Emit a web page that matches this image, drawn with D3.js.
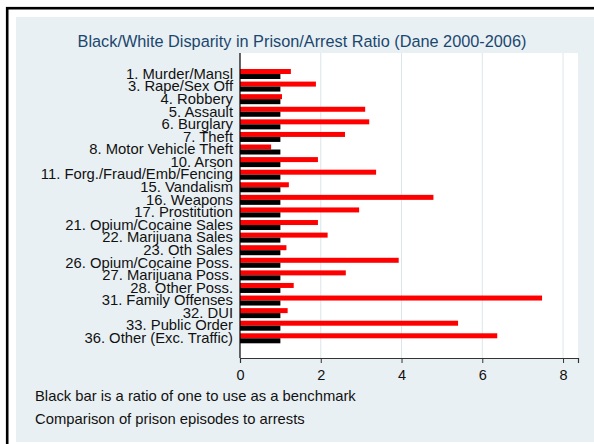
<!DOCTYPE html>
<html>
<head>
<meta charset="utf-8">
<script src="https://cdn.jsdelivr.net/npm/d3@7"></script>
<style>
  html, body { margin: 0; padding: 0; background: #fff; }
  svg { display: block; }
  text { font-family: "Liberation Sans", Arial, Helvetica, sans-serif; }
</style>
</head>
<body>
<script>
const categories = [
  "1. Murder/Mansl", "3. Rape/Sex Off", "4. Robbery", "5. Assault", "6. Burglary",
  "7. Theft", "8. Motor Vehicle Theft", "10. Arson", "11. Forg./Fraud/Emb/Fencing",
  "15. Vandalism", "16. Weapons", "17. Prostitution", "21. Opium/Cocaine Sales",
  "22. Marijuana Sales", "23. Oth Sales", "26. Opium/Cocaine Poss.", "27. Marijuana Poss.",
  "28. Other Poss.", "31. Family Offenses", "32. DUI", "33. Public Order", "36. Other (Exc. Traffic)"
];
const disparityRatio = [1.26, 1.88, 1.04, 3.10, 3.20, 2.60, 0.77, 1.93, 3.37, 1.21, 4.79,
                        2.95, 1.93, 2.17, 1.15, 3.93, 2.62, 1.33, 7.48, 1.18, 5.40, 6.37];
const benchmark = [1, 1, 1, 1, 1, 1, 1, 1, 1, 1, 1, 1, 1, 1, 1, 1, 1, 1, 1, 1, 1, 1];
const seriesNames = ["ratio", "benchmark"];
const xTicks = [0, 2, 4, 6, 8];
const titleText = "Black/White Disparity in Prison/Arrest Ratio (Dane 2000-2006)";
const notes = ["Black bar is a ratio of one to use as a benchmark",
               "Comparison of prison episodes to arrests"];

const W = 594, H = 444;
const plot = { left: 240, right: 578, top: 53, bottom: 358 };

const svg = d3.select("body").append("svg").attr("width", W).attr("height", H);

// outer frame and panel
svg.append("rect").attr("x", 0).attr("y", 0).attr("width", W).attr("height", H).attr("fill", "#fff");
svg.append("rect").attr("x", 7.2).attr("y", 8.2).attr("width", W + 20).attr("height", H + 20)
  .attr("fill", "none").attr("stroke", "#000").attr("stroke-width", 2.6);
svg.append("rect").attr("x", 16).attr("y", 17).attr("width", W - 16).attr("height", 425)
  .attr("fill", "#E9F0F3");

// plot region
svg.append("rect").attr("x", plot.left).attr("y", plot.top)
  .attr("width", plot.right - plot.left).attr("height", plot.bottom - plot.top).attr("fill", "#fff");

const x = d3.scaleLinear().domain([0, 8.37]).range([plot.left, plot.right]);
const y = d3.scaleBand().domain(categories).range([69, 343.3]).paddingInner(0.205).paddingOuter(0);
const ySub = d3.scaleBand().domain(seriesNames).range([0, y.bandwidth()]);

// gridlines
svg.append("g").selectAll("line").data(xTicks.filter(d => d > 0)).join("line")
  .attr("x1", d => x(d)).attr("x2", d => x(d))
  .attr("y1", plot.top).attr("y2", plot.bottom)
  .attr("stroke", "#DCE6EA").attr("stroke-width", 1);

const rows = categories.map((c, i) => ({ c, ratio: disparityRatio[i], benchmark: benchmark[i] }));
const colors = { ratio: "#FF0000", benchmark: "#000000" };

const g = svg.append("g");
seriesNames.forEach(s => {
  g.append("g").selectAll("rect").data(rows).join("rect")
    .attr("x", x(0))
    .attr("y", d => y(d.c) + ySub(s))
    .attr("width", d => x(d[s]) - x(0))
    .attr("height", ySub.bandwidth())
    .attr("fill", colors[s]);
});

// x axis
const xAxis = svg.append("g").attr("transform", `translate(0,${plot.bottom})`)
  .call(d3.axisBottom(x).tickValues(xTicks).tickSize(5).tickPadding(7).tickFormat(d3.format("d")));
xAxis.select(".domain").attr("stroke", "#333").attr("stroke-width", 1.2);
xAxis.selectAll(".tick line").attr("stroke", "#333");
xAxis.selectAll("text").attr("font-size", 14.5).attr("fill", "#111")
  .attr("font-family", "'Liberation Sans', Arial, sans-serif");

// y axis
const yAxis = svg.append("g").attr("transform", `translate(${plot.left},0)`)
  .call(d3.axisLeft(y).tickSize(0).tickPadding(7));
yAxis.select(".domain").remove();
yAxis.append("line").attr("x1", 0).attr("x2", 0).attr("y1", plot.top).attr("y2", plot.bottom)
  .attr("stroke", "#000").attr("stroke-width", 1.2);
yAxis.selectAll("text").attr("font-size", 14.8).attr("fill", "#111")
  .attr("font-family", "'Liberation Sans', Arial, sans-serif");

// title
svg.append("text").attr("x", 302).attr("y", 47).attr("text-anchor", "middle")
  .attr("font-size", 16.3).attr("fill", "#1A476F").text(titleText);

// notes
svg.append("g").selectAll("text").data(notes).join("text")
  .attr("x", 35).attr("y", (d, i) => 401 + i * 23)
  .attr("font-size", 14.8).attr("fill", "#111").text(d => d);
</script>
</body>
</html>
